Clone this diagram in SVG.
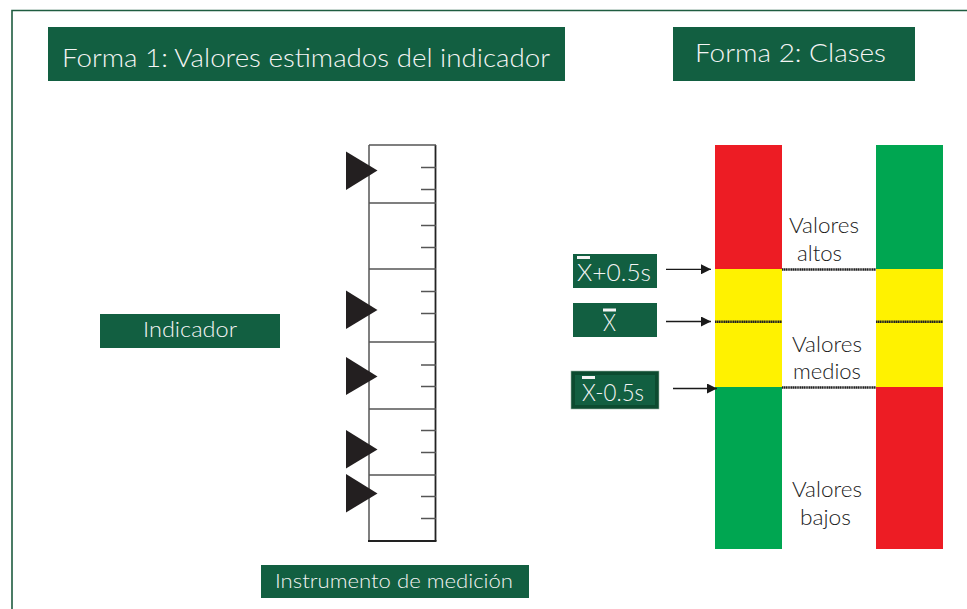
<svg xmlns="http://www.w3.org/2000/svg" width="967" height="609" viewBox="0 0 967 609">
<style>
.box{fill:#125F41}
.wt{fill:#F4F4F4;font-family:Lato,"Liberation Sans",sans-serif;font-weight:300}
.bt{fill:#1A1A1A;font-family:Lato,"Liberation Sans",sans-serif;font-weight:300;font-size:22px}
.rl{stroke:#555;stroke-width:1.5;fill:none}
.tick{stroke:#555;stroke-width:1.5}
.tri{fill:#231F20}
.dot{stroke:#222;stroke-width:2.4;stroke-dasharray:1.4 0.4}
.arr{stroke:#1A1A1A;stroke-width:1.3;fill:none;marker-end:url(#ah)}
.bar{fill:#F4F4F4}
</style>
<defs>
<marker id="ah" viewBox="0 0 10 10" refX="10" refY="5" markerWidth="11" markerHeight="10" markerUnits="userSpaceOnUse" orient="auto">
<path d="M0,0 L10,5 L0,10 z" fill="#1A1A1A"/>
</marker>
</defs>
<rect width="967" height="609" fill="#FFFFFF"/>
<path d="M12,609 V10.5 H967" stroke="#1F5C40" stroke-width="1.6" fill="none"/>

<g id="title1">
<rect class="box" x="48" y="27" width="517" height="54"/>
<text class="wt" x="62" y="67" font-size="26" textLength="488" lengthAdjust="spacingAndGlyphs">Forma 1: Valores estimados del indicador</text>
</g>
<g id="title2">
<rect class="box" x="673" y="27" width="242" height="54"/>
<text class="wt" x="695" y="62" font-size="26" textLength="191" lengthAdjust="spacingAndGlyphs">Forma 2: Clases</text>
</g>
<g id="indicador">
<rect class="box" x="100" y="314" width="180" height="34"/>
<text class="wt" x="143" y="337" font-size="22" textLength="94" lengthAdjust="spacingAndGlyphs">Indicador</text>
</g>
<g id="instrumento">
<rect class="box" x="261" y="565" width="268" height="33"/>
<text class="wt" x="275" y="588" font-size="20" textLength="238" lengthAdjust="spacingAndGlyphs">Instrumento de medición</text>
</g>

<g id="ruler">
<line class="rl" x1="369" y1="145" x2="369" y2="541"/>
<line x1="435.5" y1="145" x2="435.5" y2="541" stroke="#222" stroke-width="1.8"/>
<line class="rl" x1="369" y1="145" x2="436" y2="145"/>
<line class="rl" x1="369" y1="203" x2="436" y2="203"/>
<line class="rl" x1="369" y1="269" x2="436" y2="269"/>
<line class="rl" x1="369" y1="342" x2="436" y2="342"/>
<line class="rl" x1="369" y1="409" x2="436" y2="409"/>
<line class="rl" x1="369" y1="475" x2="436" y2="475"/>
<line x1="368" y1="541" x2="436.5" y2="541" stroke="#222" stroke-width="1.8"/>
<g class="tick">
<line x1="421" y1="167.5" x2="436" y2="167.5"/>
<line x1="421" y1="189.5" x2="436" y2="189.5"/>
<line x1="421" y1="225.5" x2="436" y2="225.5"/>
<line x1="421" y1="247.5" x2="436" y2="247.5"/>
<line x1="421" y1="291.5" x2="436" y2="291.5"/>
<line x1="421" y1="313.5" x2="436" y2="313.5"/>
<line x1="421" y1="365" x2="436" y2="365"/>
<line x1="421" y1="386.5" x2="436" y2="386.5"/>
<line x1="421" y1="430.5" x2="436" y2="430.5"/>
<line x1="421" y1="452.5" x2="436" y2="452.5"/>
<line x1="421" y1="496.5" x2="436" y2="496.5"/>
<line x1="421" y1="518.5" x2="436" y2="518.5"/>
</g>
</g>
<g id="markers">
<polygon class="tri" points="346,151.5 377.5,170.5 346,190"/>
<polygon class="tri" points="346,290.5 377.5,310 346,329"/>
<polygon class="tri" points="346,357 377.5,376.5 346,395"/>
<polygon class="tri" points="346,430 377.5,449.5 346,468.5"/>
<polygon class="tri" points="346,474 377.5,493.5 346,512.5"/>
</g>

<g id="col-left">
<rect x="715" y="145" width="67" height="124" fill="#ED1C24"/>
<rect x="715" y="269" width="67" height="118" fill="#FFF200"/>
<rect x="715" y="387" width="67" height="162" fill="#00A651"/>
</g>
<g id="col-right">
<rect x="876" y="145" width="67" height="124" fill="#00A651"/>
<rect x="876" y="269" width="67" height="118" fill="#FFF200"/>
<rect x="876" y="387" width="67" height="162" fill="#ED1C24"/>
</g>

<g id="lbl-altos">
<text class="bt" x="789" y="233" textLength="70" lengthAdjust="spacingAndGlyphs">Valores</text>
<text class="bt" x="797" y="261" textLength="45" lengthAdjust="spacingAndGlyphs">altos</text>
</g>
<g id="lbl-medios">
<text class="bt" x="792" y="352" textLength="70" lengthAdjust="spacingAndGlyphs">Valores</text>
<text class="bt" x="793" y="379" textLength="68" lengthAdjust="spacingAndGlyphs">medios</text>
</g>
<g id="lbl-bajos">
<text class="bt" x="792" y="497" textLength="70" lengthAdjust="spacingAndGlyphs">Valores</text>
<text class="bt" x="800" y="525" textLength="51" lengthAdjust="spacingAndGlyphs">bajos</text>
</g>

<g id="xplus">
<rect class="box" x="573" y="254" width="84" height="34"/>
<rect class="bar" x="577" y="256" width="13" height="3"/>
<text class="wt" x="577" y="281" font-size="23" textLength="74" lengthAdjust="spacingAndGlyphs">X+0.5s</text>
</g>
<g id="xbar">
<rect class="box" x="573" y="303" width="84" height="34"/>
<rect class="bar" x="603" y="308.5" width="13" height="3"/>
<text class="wt" x="603" y="331" font-size="23" textLength="13" lengthAdjust="spacingAndGlyphs">X</text>
</g>
<g id="xminus">
<rect x="571" y="371" width="88" height="38" fill="#0C4B30" stroke="#9DB5A8" stroke-width="0.6"/>
<rect class="box" x="575" y="375" width="80" height="30"/>
<rect class="bar" x="582" y="376" width="13" height="3"/>
<text class="wt" x="582" y="401" font-size="23" textLength="62" lengthAdjust="spacingAndGlyphs">X-0.5s</text>
</g>

<g id="connectors">
<line class="arr" x1="666" y1="269.3" x2="711" y2="269.3"/>
<line class="arr" x1="666" y1="321.5" x2="711" y2="321.5"/>
<line class="arr" x1="673" y1="388.5" x2="717" y2="388.5"/>
<line class="dot" x1="782" y1="269.5" x2="876" y2="269.5"/>
<line class="dot" x1="715" y1="321.8" x2="782" y2="321.8"/>
<line class="dot" x1="876" y1="321.8" x2="943" y2="321.8"/>
<line class="dot" x1="782" y1="387.5" x2="876" y2="387.5"/>
</g>
</svg>
